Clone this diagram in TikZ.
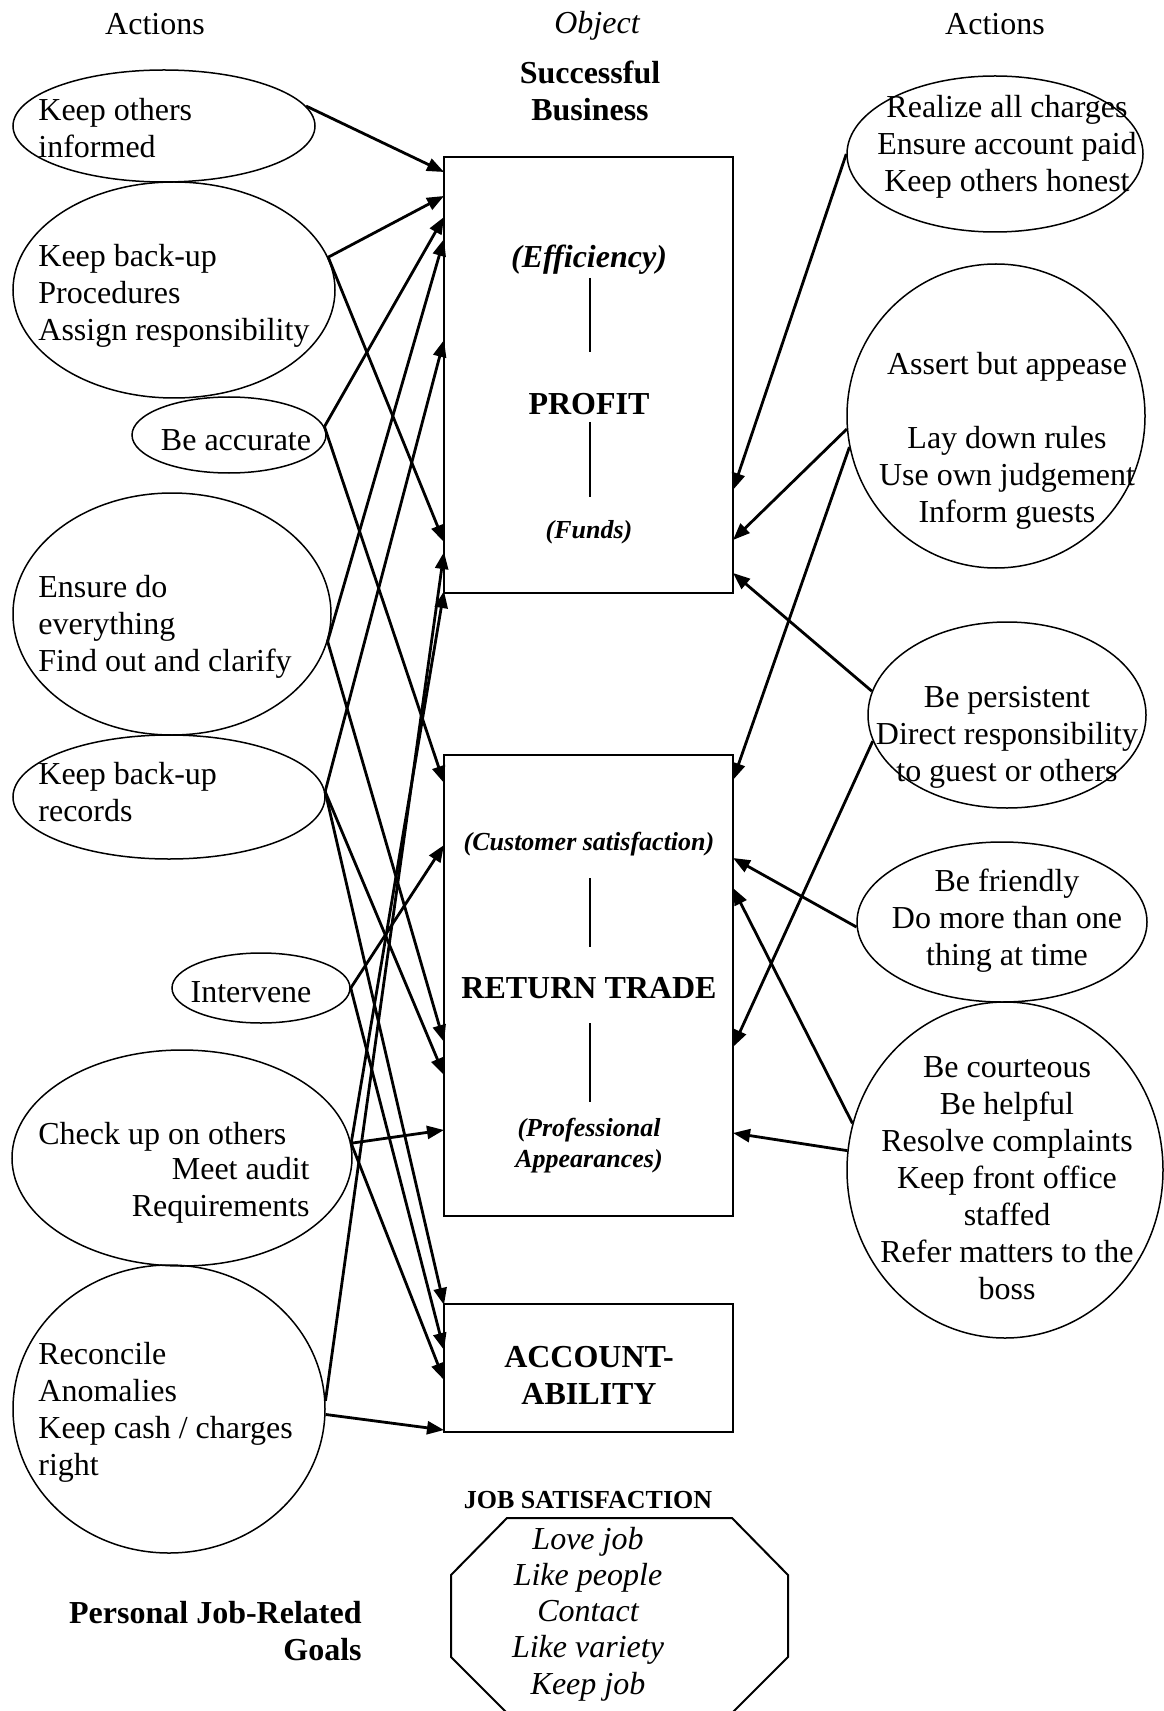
\documentclass[tikz,border=0pt]{standalone}
\usepackage{fontspec}
\setmainfont{Liberation Serif}
\usetikzlibrary{shapes.geometric,arrows.meta}

\tikzset{
	oval/.style={draw, ellipse, line width=0.75pt, inner sep=0pt},
	objbox/.style={draw, rectangle, line width=1pt, inner sep=0pt},
	txt/.style={inner sep=0pt, font=\fontsize{16}{18.5}\selectfont},
	bftxt/.style={inner sep=0pt, font=\fontsize{16}{18.5}\selectfont\bfseries},
	ittxt/.style={inner sep=0pt, font=\fontsize{16}{18.1}\selectfont\itshape},
	bitxt/.style={inner sep=0pt, font=\fontsize{16}{18.5}\selectfont\bfseries\itshape},
	smalltxt/.style={inner sep=0pt, font=\fontsize{13}{15.5}\selectfont\bfseries\itshape},
	arr/.style={line width=1.4pt, -{Triangle[length=8.5pt,width=6.5pt]}},
}

\begin{document}
\begin{tikzpicture}[x=0.5pt, y=-0.5pt]
	\useasboundingbox (0,0) rectangle (1163,1711);

	% headings
	\node[txt] (actl) at (155,24) {Actions};
	\node[ittxt] (objt) at (597,26) {Object};
	\node[txt] (actr) at (995,24) {Actions};
	\node[bftxt, align=center] (succ) at (590,91) {Successful\\Business};

	% object boxes
	\node[objbox, minimum width=144.5pt, minimum height=218pt] (profit) at (588.5,375) {};
	\node[objbox, minimum width=144.5pt, minimum height=230.5pt] (trade) at (588.5,985.5) {};
	\node[objbox, minimum width=144.5pt, minimum height=64pt] (account) at (588.5,1368) {};

	\node[bitxt] (eff) at (589,260) {(Efficiency)};
	\node[bftxt] (proft) at (589,404) {PROFIT};
	\node[smalltxt] (funds) at (589,532) {(Funds)};
	\draw[line width=0.7pt] (590,278) -- (590,352);
	\draw[line width=0.7pt] (590,422) -- (590,497);

	\node[smalltxt] (cust) at (589,844) {(Customer satisfaction)};
	\node[bftxt] (tradet) at (589,988) {RETURN TRADE};
	\node[smalltxt, align=center] (appear) at (589,1146) {(Professional\\Appearances)};
	\draw[line width=0.7pt] (590,878) -- (590,947);
	\draw[line width=0.7pt] (590,1023) -- (590,1102);

	\node[bftxt, align=center] (acct) at (589,1375) {ACCOUNT-\\ABILITY};

	% left actions
	\node[oval, minimum width=151pt, minimum height=56pt] (ko) at (164,126) {};
	\node[oval, minimum width=161pt, minimum height=108pt] (kbp) at (174,290) {};
	\node[oval, minimum width=97pt, minimum height=38pt] (ba) at (229,435) {};
	\node[oval, minimum width=159pt, minimum height=121pt] (ede) at (172,614) {};
	\node[oval, minimum width=156pt, minimum height=62pt] (kbr) at (169,797) {};
	\node[oval, minimum width=89pt, minimum height=35pt] (interv) at (261,988) {};
	\node[oval, minimum width=170pt, minimum height=108pt] (cuo) at (182,1158) {};
	\node[oval, minimum width=156pt, minimum height=144pt] (rec) at (169,1409) {};

	\node[txt, align=left, anchor=west] (kot) at (38,128) {Keep others\\informed};
	\node[txt, align=left, anchor=west] (kbpt) at (38,296) {Keep back-up\\Procedures\\Assign responsibility};
	\node[txt] (bat) at (236,440) {Be accurate};
	\node[txt, align=left, anchor=west] (edet) at (38,627) {Ensure do\\everything\\Find out and clarify};
	\node[txt, align=left, anchor=west] (kbrt) at (38,792) {Keep back-up\\records};
	\node[txt] (intervt) at (251,992) {Intervene};
	\node[txt, anchor=west] (cuot) at (38,1137) {Check up on others};
	\node[txt, align=right, anchor=east] (audt) at (310,1190) {Meet audit\\Requirements};
	\node[txt, align=left, anchor=west] (rect) at (38,1412) {Reconcile\\Anomalies\\Keep cash / charges\\right};

	% right actions
	\node[oval, minimum width=148pt, minimum height=78pt] (r1) at (995,154) {};
	\node[oval, minimum width=149pt, minimum height=152pt] (r2) at (996,416) {};
	\node[oval, minimum width=139pt, minimum height=93pt] (r3) at (1007,715) {};
	\node[oval, minimum width=145pt, minimum height=80pt] (r4) at (1002,922) {};
	\node[oval, minimum width=158pt, minimum height=168pt] (r5) at (1005,1170) {};

	\node[txt, align=center] (r1t) at (1007,147) {Realize all charges\\Ensure account paid\\Keep others honest};
	\node[txt, align=center] (r2t) at (1007,441) {Assert but appease\\[18.5pt]Lay down rules\\Use own judgement\\Inform guests};
	\node[txt, align=center] (r3t) at (1007,737) {Be persistent\\Direct responsibility\\to guest or others};
	\node[txt, align=center] (r4t) at (1007,921) {Be friendly\\Do more than one\\thing at time};
	\node[txt, align=center] (r5t) at (1007,1178) {Be courteous\\Be helpful\\Resolve complaints\\Keep front office\\staffed\\Refer matters to the\\boss};

	% arrow ends on the boxes
	\foreach \n/\y in {pa/172,pb/196,pc/217,pd/239,pe/340,pf/542,pg/552,ph/591,
		ra/783,rb/845,rc/1042,rd/1075,re/1130,aa/1305,ab/1350,ac/1380,ad/1430}
		\coordinate (\n) at (444,\y);
	\foreach \n/\y in {qa/490,qb/540,qc/573,sa/780,sb/858,sc/888,sd/1047,se/1133}
		\coordinate (\n) at (733,\y);

	\foreach \s/\t in {ko.8/pa, kbp.12/pb, ba.5/pc, ede.-10/pd, kbr.2/pe, kbp.12/pf,
		rec.3/pg, cuo.5/ph, ba.5/ra, interv.east/rb, ede.-10/rc, kbr.2/rd, cuo.5/re,
		kbr.2/aa, interv.east/ab, cuo.5/ac, rec.-2/ad}
		\draw[arr] (\s) -- (\t);
	\foreach \s/\t in {r1.west/qa, r2.185/qb, r3.170/qc, r2.192/sa, r4.182/sb,
		r5.163/sc, r3.191/sd, r5.173/se}
		\draw[arr] (\s) -- (\t);

	% job satisfaction
	\node[inner sep=0pt, font=\fontsize{13}{15.5}\selectfont\bfseries] (jobs) at (588,1500) {JOB SATISFACTION};
	\draw[line width=1pt] (507,1518) -- (732,1518) -- (788,1575) -- (788,1657) -- (732,1713)
		-- (507,1713) -- (451,1657) -- (451,1575) -- cycle;
	\node[ittxt, align=center] (likes) at (588,1614) {Love job\\Like people\\Contact\\Like variety\\Keep job};

	\node[bftxt, align=right, anchor=east] (goals) at (362,1631) {Personal Job-Related\\Goals};
\end{tikzpicture}
\end{document}
